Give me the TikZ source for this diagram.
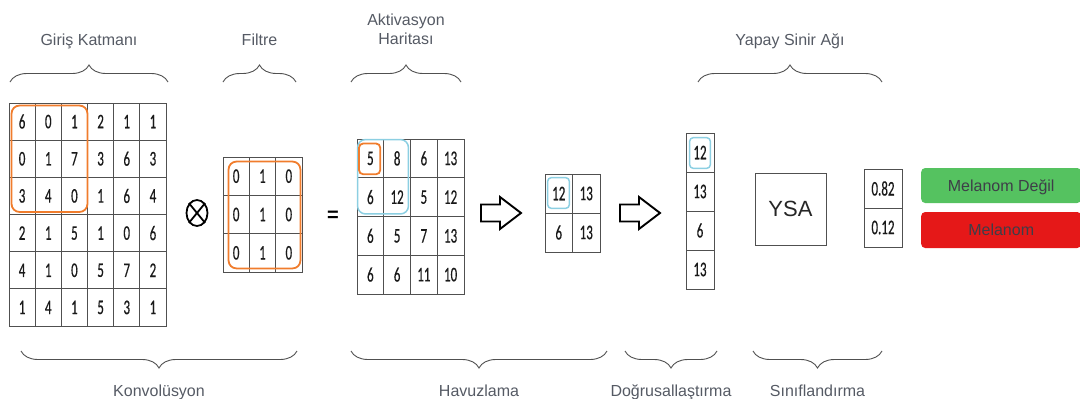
\documentclass[tikz,border=0pt]{standalone}
\usepackage{fontspec}
\usepackage{graphicx}
\setmainfont{Liberation Sans}
\newfontfamily\digitfont[FakeBold=0.6]{Carlito}
\usetikzlibrary{decorations.pathreplacing,shapes.geometric}

\definecolor{gridline}{HTML}{505050}
\definecolor{labelgray}{HTML}{555A64}
\definecolor{hlorange}{HTML}{F07C2C}
\definecolor{hlblue}{HTML}{8CCFE2}
\definecolor{okgreen}{HTML}{55C260}
\definecolor{badred}{HTML}{E51818}
\definecolor{btntext}{HTML}{3E3E48}

% narrow, tall digits used inside the matrix cells
\newcommand{\tallnum}[1]{\scalebox{1}[1.6]{#1}}

\begin{document}
\begin{tikzpicture}[x=1pt,y=-1pt,
  cell/.style={draw=gridline,line width=0.9pt,inner sep=0pt,
    font=\digitfont\fontsize{13}{13}\selectfont,text=black!90},
  orangebox/.style={draw=hlorange,line width=1.8pt},
  bluebox/.style={draw=hlblue,line width=1.5pt},
  brace/.style={decorate,decoration={brace,amplitude=17pt},draw=gridline,line width=0.9pt},
  caption/.style={font=\fontsize{16}{19.5}\selectfont,text=labelgray},
  blockarrow/.style={draw=black,line width=1.9pt,line join=miter},
  btn/.style={rounded corners=4pt,minimum width=160pt,inner sep=0pt,
    font=\fontsize{16}{16}\selectfont,text=btntext,text height=11.5pt,text depth=0pt},
]
\useasboundingbox (0,0) rectangle (1080,399);

% ---------- input layer (6x6) ----------
\foreach \rowvals [count=\r] in {{6,0,1,2,1,1},{0,1,7,3,6,3},{3,4,0,1,6,4},{2,1,5,1,0,6},{4,1,0,5,7,2},{1,4,1,5,3,1}} {
  \foreach \v [count=\c] in \rowvals {
    \node[cell,minimum width=26.17pt,minimum height=37.17pt] (in-\r-\c)
      at ({9+(\c-0.5)*26.17},{103+(\r-0.5)*37.17}) {\tallnum{\v}};
  }
}
\draw[orangebox,rounded corners=8pt]
  ([shift={(3pt,-3pt)}]in-1-1.north west) rectangle ([shift={(-0.5pt,3pt)}]in-3-3.south east);

% ---------- convolution operator ----------
\node[draw,ellipse,line width=1.8pt,minimum width=21pt,minimum height=26pt,inner sep=0pt] (conv) at (197,213) {};
\draw[line width=1.8pt] (conv.north west) -- (conv.south east);
\draw[line width=1.8pt] (conv.north east) -- (conv.south west);

% ---------- filter (3x3) ----------
\foreach \rowvals [count=\r] in {{0,1,0},{0,1,0},{0,1,0}} {
  \foreach \v [count=\c] in \rowvals {
    \node[cell,minimum width=26.33pt,minimum height=38.33pt] (flt-\r-\c)
      at ({223+(\c-0.5)*26.33},{157+(\r-0.5)*38.33}) {\tallnum{\v}};
  }
}
\draw[orangebox,rounded corners=8pt]
  ([shift={(6pt,-5pt)}]flt-1-1.north west) rectangle ([shift={(-2pt,4pt)}]flt-3-3.south east);

% ---------- equals sign ----------
\node[font=\bfseries\fontsize{20}{20}\selectfont,inner sep=0pt] (eq) at (333,216) {=};

% ---------- activation map (4x4) ----------
\foreach \rowvals [count=\r] in {{5,8,6,13},{6,12,5,12},{6,5,7,13},{6,6,11,10}} {
  \foreach \v [count=\c] in \rowvals {
    \node[cell,minimum width=26.75pt,minimum height=38.75pt] (act-\r-\c)
      at ({357+(\c-0.5)*26.75},{139+(\r-0.5)*38.75}) {\tallnum{\v}};
  }
}
\draw[bluebox,rounded corners=8pt]
  ([shift={(1pt,-1pt)}]act-1-1.north west) rectangle ([shift={(-2.5pt,3pt)}]act-2-2.south east);
\draw[orangebox,rounded corners=4pt]
  ([shift={(2.5pt,-5pt)}]act-1-1.north west) rectangle ([shift={(-4pt,4pt)}]act-1-1.south east);

% ---------- first block arrow ----------
\coordinate (arrA) at (481,213);
\draw[blockarrow] (arrA) ++(0,-8.5) -- ++(19,0) -- ++(0,-7.5) -- ++(21,16)
  -- ++(-21,16) -- ++(0,-7.5) -- ++(-19,0) -- cycle;

% ---------- pooled map (2x2) ----------
\foreach \rowvals [count=\r] in {{12,13},{6,13}} {
  \foreach \v [count=\c] in \rowvals {
    \node[cell,minimum width=27.5pt,minimum height=39pt] (pool-\r-\c)
      at ({545+(\c-0.5)*27.5},{174+(\r-0.5)*39}) {\tallnum{\v}};
  }
}
\draw[bluebox,rounded corners=4pt]
  ([shift={(3pt,-4pt)}]pool-1-1.north west) rectangle ([shift={(-3.5pt,5pt)}]pool-1-1.south east);

% ---------- second block arrow ----------
\coordinate (arrB) at (620,213);
\draw[blockarrow] (arrB) ++(0,-8.5) -- ++(19,0) -- ++(0,-7.5) -- ++(21,16)
  -- ++(-21,16) -- ++(0,-7.5) -- ++(-19,0) -- cycle;

% ---------- flattened vector ----------
\foreach \v [count=\r] in {12,13,6,13} {
  \node[cell,minimum width=28pt,minimum height=39pt] (flat-\r)
    at (700,{133+(\r-0.5)*39}) {\tallnum{\v}};
}
\draw[bluebox,rounded corners=4pt]
  ([shift={(4pt,-5pt)}]flat-1.north west) rectangle ([shift={(-4pt,4pt)}]flat-1.south east);

% ---------- neural network ----------
\node[draw=gridline,line width=1pt,minimum width=71pt,minimum height=72pt,inner sep=0pt,
  font=\fontsize{22}{22}\selectfont,text=black!85,text height=15.8pt,text depth=0pt] (ysa) at (790.5,209) {YSA};

% ---------- output probabilities ----------
\foreach \v [count=\r] in {0.82,0.12} {
  \node[cell,minimum width=38pt,minimum height=39pt] (out-\r)
    at (883,{169+(\r-0.5)*39}) {\tallnum{\v}};
}

% ---------- class labels ----------
\node[btn,fill=okgreen,minimum height=35pt,anchor=west] (notmel) at (921,185.5) {Melanom Değil};
\node[btn,fill=badred,minimum height=36pt,anchor=west] (mel) at (921,230) {Melanom};

% ---------- upper braces and captions ----------
\draw[brace] (10,82) -- (168,82);
\node[caption,anchor=base] (capIn) at (89,45) {Giriş Katmanı};
\draw[brace] (223,82) -- (296,82);
\node[caption,anchor=base] (capFlt) at (259.5,45) {Filtre};
\draw[brace] (351,82) -- (461,82);
\node[caption,anchor=base] (capAct1) at (406,25) {Aktivasyon};
\node[caption,anchor=base] (capAct2) at (406,44.5) {Haritası};
\draw[brace] (698,82) -- (882,82);
\node[caption,anchor=base] (capNN) at (790,45) {Yapay Sinir Ağı};

% ---------- lower braces and captions ----------
\draw[brace] (297,351) -- (21,351);
\node[caption,anchor=base] (capConv) at (159,396) {Konvolüsyon};
\draw[brace] (607,351) -- (351,351);
\node[caption,anchor=base] (capPool) at (479,396) {Havuzlama};
\draw[brace] (717,351) -- (625,351);
\node[caption,anchor=base] (capFlat) at (671,396) {Doğrusallaştırma};
\draw[brace] (882,351) -- (753,351);
\node[caption,anchor=base] (capCls) at (817.5,396) {Sınıflandırma};
\end{tikzpicture}
\end{document}
